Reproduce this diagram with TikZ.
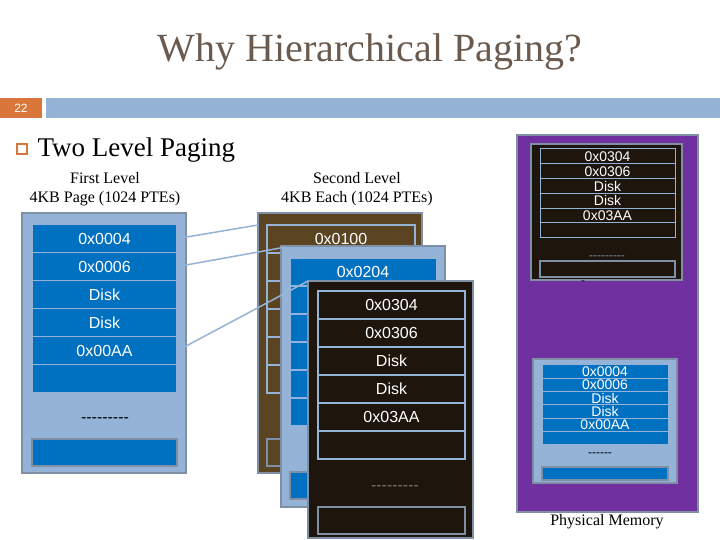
\documentclass[tikz,border=0pt]{standalone}
\usepackage{fontspec}
\setmainfont{Liberation Serif}
\newfontfamily\sans{Liberation Sans}
\definecolor{ttl}{HTML}{6B5A4E}
\definecolor{org}{HTML}{D9773A}
\definecolor{lbl}{HTML}{95B3D7}
\definecolor{bdr}{HTML}{7F8FA6}
\definecolor{blu}{HTML}{0070C0}
\definecolor{brn}{HTML}{5A4422}
\definecolor{drk}{HTML}{1E160C}
\definecolor{pur}{HTML}{7030A0}
\begin{document}
\begin{tikzpicture}[x=1pt,y=-1pt,
  box/.style={draw=bdr,line width=2pt},
  row/.style={draw=lbl,line width=1.5pt,text=white,font=\sans\fontsize{16}{16}\selectfont},
  srow/.style={draw=lbl,line width=1pt,text=white,font=\sans\fontsize{14}{10}\selectfont},
  lnk/.style={draw=lbl,line width=1.5pt},
  hd/.style={font=\fontsize{16}{19}\selectfont,align=center}]
\useasboundingbox (0,0) rectangle (720,540);
\fill[white] (0,0) rectangle (720,540);
\node[text=ttl,font=\fontsize{40}{40}\selectfont] (title) at (370,52) {Why Hierarchical Paging?};
\fill[org] (0,98) rectangle (42,118);
\node[text=white,font=\sans\fontsize{12}{12}\selectfont] (num) at (21,108) {22};
\fill[lbl] (46,98) rectangle (720,118);
\draw[org,line width=1.2pt] (17,144) rectangle (27,154);
\node[anchor=west,font=\fontsize{27}{27}\selectfont] (h) at (34,150) {Two Level Paging};
\node[hd] (h1) at (105,189) {First Level\\4KB Page (1024 PTEs)};
\node[hd] (h2) at (357,189) {Second Level\\4KB Each (1024 PTEs)};
% first level
\draw[box,fill=lbl] (22,213) rectangle (186,473);
\foreach \t [count=\i from 0] in {0x0004,0x0006,Disk,Disk,0x00AA,{}}
  \node[row,fill=blu,minimum width=145pt,minimum height=28pt,inner sep=0pt] (f\i) at (104.5,{238.5+28*\i}) {\t};
\node[font=\sans\fontsize{16}{16}\selectfont] (fd) at (105,420) {---------};
\draw[box,fill=blu] (32,439) rectangle (177,466);
% brown table
\draw[box,fill=brn] (258,213) rectangle (422,473);
\foreach \i in {0,...,5} \draw[row] (267,{225+28*\i}) rectangle (415,{253+28*\i});
\node[row,draw=none] (b0) at (341,239) {0x0100};
\draw[box] (267,439) rectangle (415,466);
% middle blue table
\draw[box,fill=lbl] (281,246) rectangle (445,507);
\foreach \i in {0,...,5} \draw[row,fill=blu] (290,{258+28*\i}) rectangle (437,{286+28*\i});
\node[row,draw=none] (m0) at (363,272) {0x0204};
\draw[box,fill=blu] (290,472) rectangle (437,499);
% front dark table
\draw[box,fill=drk] (308,281) rectangle (473,538);
\foreach \t [count=\i from 0] in {0x0304,0x0306,Disk,Disk,0x03AA,{}}
  \node[row,fill=drk,minimum width=147pt,minimum height=28pt,inner sep=0pt] (d\i) at (391.5,{305+28*\i}) {\t};
\node[text=drk!60,font=\sans\fontsize{16}{16}\selectfont] (dd) at (395,488) {---------};
\draw[box] (318,507) rectangle (465,534);
% links
\coordinate (t1) at (258,225);
\coordinate (t2) at (286,247);
\coordinate (t3) at (308,281);
\draw[lnk] (f0.east) -- (t1);
\draw[lnk] (f1.east) -- (t2);
\draw[lnk] (f4.east) -- (t3);
% physical memory
\draw[box,fill=pur] (517,135) rectangle (698,512);
\draw[box,fill=drk] (531,144) rectangle (682,280);
\foreach \t [count=\i from 0] in {0x0304,0x0306,Disk,Disk,0x03AA,{}}
  \node[srow,fill=drk,minimum width=135pt,minimum height=14.8pt,inner sep=0pt] (p\i) at (607.5,{156.4+14.8*\i}) {\t};
\node[text=bdr,font=\sans\fontsize{12}{12}\selectfont] (pd) at (607,258) {---------};
\draw[box,line width=1.5pt] (540,261) rectangle (675,277);
\node[text=drk,font=\sans\fontsize{12}{12}\selectfont] (pm) at (583,283) {-};
\draw[box,fill=lbl] (533,359) rectangle (677,483);
\foreach \t [count=\i from 0] in {0x0004,0x0006,Disk,Disk,0x00AA,{}}
  \node[srow,fill=blu,minimum width=126pt,minimum height=13.3pt,inner sep=0pt] (q\i) at (605,{371.6+13.3*\i}) {\t};
\node[font=\sans\fontsize{12}{12}\selectfont] (qd) at (600,455) {------};
\draw[box,line width=1.5pt,fill=blu] (542,467) rectangle (668,480);
\node[font=\fontsize{16}{16}\selectfont] (pml) at (607,522) {Physical Memory};
\end{tikzpicture}
\end{document}
